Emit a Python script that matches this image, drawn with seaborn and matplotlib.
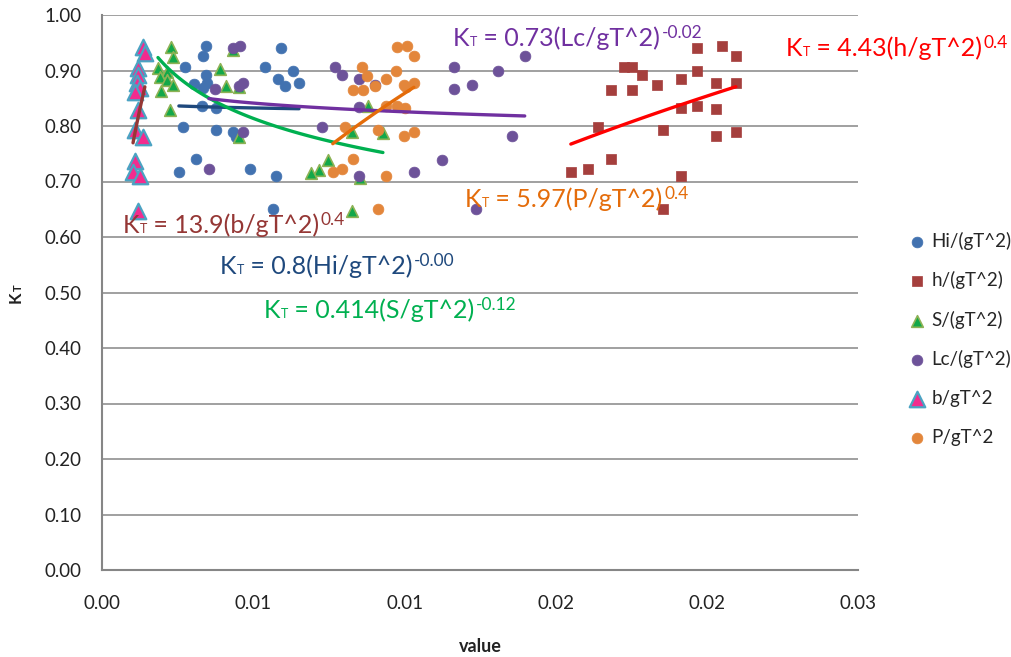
import numpy as np
import pandas as pd
import matplotlib
matplotlib.use("Agg")
import matplotlib.pyplot as plt
import seaborn as sns

# ---------------- data ----------------
SERIES_NAMES = ["Hi/(gT^2)", "h/(gT^2)", "S/(gT^2)", "Lc/(gT^2)", "b/gT^2", "P/gT^2"]

HI_X = [0.00412, 0.00400, 0.00328, 0.00709, 0.00646, 0.00412, 0.00757, 0.00364, 0.00416, 0.00400,
        0.00697, 0.00725, 0.00781, 0.00396, 0.00451, 0.00320, 0.00451, 0.00519, 0.00531, 0.00372,
        0.00304, 0.00586, 0.00689, 0.00677]
HI_Y = [0.944, 0.926, 0.906, 0.941, 0.906, 0.892, 0.899, 0.876, 0.878, 0.869,
        0.885, 0.872, 0.878, 0.836, 0.833, 0.799, 0.793, 0.790, 0.781, 0.741,
        0.718, 0.723, 0.710, 0.651]

H_X = [0.02360, 0.02459, 0.02515, 0.02070, 0.02102, 0.02142, 0.02201, 0.02296, 0.02360, 0.02019,
       0.02102, 0.02435, 0.02515, 0.02296, 0.02360, 0.02435, 0.01967, 0.02225, 0.02435, 0.02515,
       0.02019, 0.01927, 0.01860, 0.02296, 0.02225]
H_Y = [0.941, 0.944, 0.926, 0.906, 0.906, 0.892, 0.874, 0.885, 0.899, 0.865,
       0.865, 0.878, 0.878, 0.833, 0.836, 0.831, 0.799, 0.793, 0.782, 0.790,
       0.741, 0.723, 0.718, 0.710, 0.651]

S_X = [0.00273, 0.00281, 0.00221, 0.00257, 0.00229, 0.00257, 0.00281, 0.00233, 0.00467, 0.00491,
       0.00269, 0.00519, 0.00542, 0.00542, 0.01054, 0.00991, 0.01114, 0.00896, 0.00860, 0.00828,
       0.01023, 0.00991]
S_Y = [0.942, 0.924, 0.905, 0.897, 0.888, 0.883, 0.874, 0.863, 0.903, 0.872,
       0.829, 0.937, 0.871, 0.781, 0.836, 0.790, 0.788, 0.739, 0.721, 0.716,
       0.707, 0.647]

LC_X = [0.00519, 0.00546, 0.00447, 0.00542, 0.00558, 0.00558, 0.00423, 0.00872, 0.00923, 0.00951,
        0.01019, 0.01082, 0.01019, 0.01019, 0.01348, 0.01237, 0.01677, 0.01396, 0.01570, 0.01396,
        0.01467, 0.01626, 0.01483]
LC_Y = [0.941, 0.944, 0.867, 0.872, 0.878, 0.790, 0.723, 0.799, 0.906, 0.892,
        0.885, 0.874, 0.835, 0.710, 0.739, 0.718, 0.926, 0.906, 0.899, 0.867,
        0.874, 0.782, 0.651]

B_X = [0.00162, 0.00169, 0.00142, 0.00142, 0.00138, 0.00150, 0.00130, 0.00142, 0.00130, 0.00162,
       0.00130, 0.00122, 0.00150, 0.00142]
B_Y = [0.942, 0.932, 0.905, 0.892, 0.878, 0.869, 0.862, 0.829, 0.793, 0.781,
       0.737, 0.718, 0.710, 0.646]

P_X = [0.01169, 0.01209, 0.01237, 0.01031, 0.01050, 0.01165, 0.01126, 0.01082, 0.00995, 0.01035,
       0.01197, 0.01237, 0.01205, 0.01169, 0.01126, 0.01201, 0.00963, 0.01094, 0.01197, 0.01237,
       0.00995, 0.00951, 0.00915, 0.01126, 0.01094]
P_Y = [0.942, 0.944, 0.926, 0.906, 0.890, 0.899, 0.885, 0.872, 0.865, 0.865,
       0.874, 0.878, 0.871, 0.836, 0.836, 0.833, 0.799, 0.793, 0.782, 0.790,
       0.741, 0.723, 0.718, 0.710, 0.651]

# power trend lines  y = a * x^b  (order: Hi, h, S, Lc, b, P)
TREND_A = [0.806, 4.07, 0.4255, 0.732, 9.72, 5.32]
TREND_B = [-0.00633, 0.4187, -0.1267, -0.0272, 0.378, 0.4123]

EQ_BODY = [" = 0.8(Hi/gT^2)", " = 4.43(h/gT^2)", " = 0.414(S/gT^2)",
           " = 0.73(Lc/gT^2)", " = 13.9(b/gT^2)", " = 5.97(P/gT^2)"]
EQ_EXP = ["-0.00", "0.4", "-0.12", "-0.02", "0.4", "0.4"]

X_TICKS = [0.0, 0.006, 0.012, 0.018, 0.024, 0.030]
X_TICK_LABELS = ["0.00", "0.01", "0.01", "0.02", "0.02", "0.03"]
Y_TICKS = [0.0, 0.1, 0.2, 0.3, 0.4, 0.5, 0.6, 0.7, 0.8, 0.9, 1.0]
Y_TICK_LABELS = ["0.00", "0.10", "0.20", "0.30", "0.40", "0.50", "0.60", "0.70", "0.80", "0.90", "1.00"]

# ---------------- style ----------------
W, H = 1012, 657
sns.set_theme(style="white")
plt.rcParams["font.family"] = ["Lato", "DejaVu Sans"]

def fx(px):
    return px / W

def fy(py):
    return 1 - py / H

fig = plt.figure(figsize=(W / 100, H / 100), dpi=100)
ax_l, ax_r, ax_t, ax_b = 102.3, 858.0, 15.0, 570.0
ax = fig.add_axes([fx(ax_l), fy(ax_b), (ax_r - ax_l) / W, (ax_b - ax_t) / H])

series = [(HI_X, HI_Y), (H_X, H_Y), (S_X, S_Y), (LC_X, LC_Y), (B_X, B_Y), (P_X, P_Y)]
marker_style = [
    dict(marker="o", s=60, color="#4272B0", edgecolor="#4272B0", linewidth=0.5),
    dict(marker="s", s=55, color="#A53F3D", edgecolor="#A53F3D", linewidth=0.5),
    dict(marker="^", s=70, color="#12A84A", edgecolor="#8DB255", linewidth=1.2),
    dict(marker="o", s=60, color="#6D5299", edgecolor="#6D5299", linewidth=0.5),
    dict(marker="^", s=125, color="#F22C8E", edgecolor="#4BA3C3", linewidth=1.6),
    dict(marker="o", s=60, color="#E3863B", edgecolor="#E3863B", linewidth=0.5),
]
trend_colors = ["#1F497D", "#FF0000", "#00B050", "#7030A0", "#953735", "#E46C0A"]
label_colors = ["#1F497D", "#FF0000", "#00B050", "#7030A0", "#953735", "#E46C0A"]
# label anchors (left edge, baseline) in pixels
label_pos = [(220, 274), (786, 56), (264, 318), (453, 46), (123, 233), (465, 207)]

for (xs, ys), name, st in zip(series, SERIES_NAMES, marker_style):
    df = pd.DataFrame({"value": xs, "KT": ys})
    sns.scatterplot(data=df, x="value", y="KT", ax=ax, label=name, zorder=3, **st)

for (xs, ys), a, b, c in zip(series, TREND_A, TREND_B, trend_colors):
    xx = np.linspace(min(xs), max(xs), 120)
    yy = a * np.power(xx, b)
    sns.lineplot(x=xx, y=yy, ax=ax, color=c, lw=2.4, legend=False, zorder=4, sort=False)

ax.set_xlim(0, 0.03)
ax.set_ylim(0, 1.0)
ax.set_xticks(X_TICKS)
ax.set_xticklabels(X_TICK_LABELS)
ax.set_yticks(Y_TICKS)
ax.set_yticklabels(Y_TICK_LABELS)
ax.tick_params(axis="x", length=0, labelsize=13.5, pad=18, colors="#222222")
ax.tick_params(axis="y", length=0, labelsize=13.5, pad=15, colors="#222222")
for side in ["top", "right"]:
    ax.spines[side].set_visible(False)
for side in ["left", "bottom"]:
    ax.spines[side].set_color("#868686")
    ax.spines[side].set_linewidth(1.5)
ax.yaxis.grid(True, color="#868686", lw=1.1)
ax.xaxis.grid(False)
ax.set_axisbelow(True)

ax.set_xlabel("value", fontsize=13, fontweight="bold", color="#222222")
ax.xaxis.set_label_coords(0.5, (ax_b - 646) / (ax_b - ax_t))
ax.xaxis.label.set_va("center")

# y label: bold "K" with small subscript "T" (rotated)
ax.set_ylabel("")
yk = fig.text(fx(16), fy(297), "K", rotation=90, fontsize=12, fontweight="bold",
              color="#222222", va="center", ha="center")
ax.annotate("T", xy=(0.5, 1), xycoords=yk, xytext=(1.5, 0), textcoords="offset points",
            rotation=90, fontsize=8, fontweight="bold", color="#222222",
            va="bottom", ha="center")

handles, labels = ax.get_legend_handles_labels()
ax.legend(handles, labels, loc="center left", bbox_to_anchor=(fx(910), fy(338.5)),
          bbox_transform=fig.transFigure, frameon=False, fontsize=13.5,
          labelspacing=1.15, handlelength=0.8, handletextpad=0.35,
          borderpad=0, borderaxespad=0)

# equation labels
for (px, py), body, sup, col in zip(label_pos, EQ_BODY, EQ_EXP, label_colors):
    yb = fy(py)
    t1 = fig.text(fx(px), yb, "K", fontsize=18, color=col, va="baseline", ha="left")
    t2 = ax.annotate("T", xy=(1, yb), xycoords=(t1, "figure fraction"),
                     xytext=(0.5, 0), textcoords="offset points",
                     fontsize=9, color=col, va="baseline", ha="left")
    t3 = ax.annotate(body, xy=(1, yb), xycoords=(t2, "figure fraction"),
                     fontsize=18, color=col, va="baseline", ha="left")
    ax.annotate(sup, xy=(1, yb), xycoords=(t3, "figure fraction"),
                xytext=(1, 5.5), textcoords="offset points",
                fontsize=12.5, color=col, va="baseline", ha="left")

fig.savefig("out.png", dpi=100)
